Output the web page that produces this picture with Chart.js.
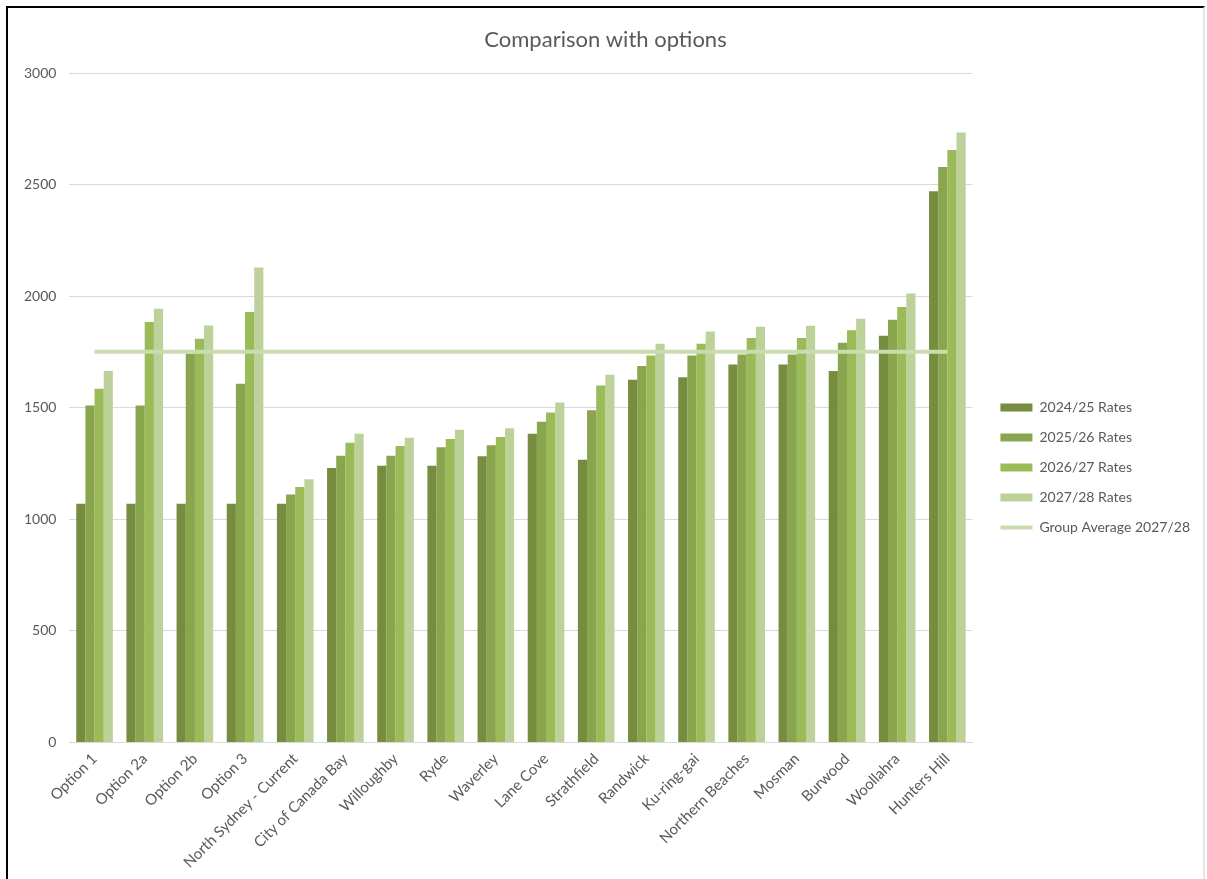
<!DOCTYPE html>
<html>
<head>
<meta charset="utf-8">
<script src="https://cdn.jsdelivr.net/npm/chart.js@4.4.1/dist/chart.umd.min.js"></script>
<style>
  html, body { margin: 0; padding: 0; background: #ffffff; }
  #wrap { position: relative; width: 1207px; height: 879px; overflow: hidden; }
  #frame { position: absolute; left: 6px; top: 6px; width: 1195px; height: 900px;
           border-left: 2px solid #000; border-top: 2px solid #000; border-right: 2px solid #e6e6e6; }
  #c { position: absolute; left: 0; top: 0; }
</style>
</head>
<body>
<div id="wrap">
  <canvas id="c" width="1207" height="879"></canvas>
  <div id="frame"></div>
</div>
<script>
const categories = ["Option 1","Option 2a","Option 2b","Option 3","North Sydney - Current","City of Canada Bay","Willoughby","Ryde","Waverley","Lane Cove","Strathfield","Randwick","Ku-ring-gai","Northern Beaches","Mosman","Burwood","Woollahra","Hunters Hill"];
const rates2024_25 = [1070,1070,1070,1070,1070,1230,1241,1241,1283,1384,1268,1626,1638,1695,1695,1665,1824,2471];
const rates2025_26 = [1511,1511,1743,1608,1112,1286,1286,1324,1332,1438,1490,1688,1735,1740,1740,1792,1895,2580];
const rates2026_27 = [1586,1885,1810,1930,1145,1344,1329,1360,1369,1479,1601,1735,1788,1813,1813,1848,1952,2656];
const rates2027_28 = [1665,1945,1870,2130,1180,1384,1366,1402,1409,1524,1649,1788,1843,1864,1868,1900,2013,2735];
const groupAverage2027_28 = [1752,1752,1752,1752,1752,1752,1752,1752,1752,1752,1752,1752,1752,1752,1752,1752,1752,1752];
const yTicks = [0,500,1000,1500,2000,2500,3000];

const textColor = '#595959';
const fontFamily = 'Lato, "Open Sans", sans-serif';
const legendGap = 12;

function barSet(label, data, color) {
  return { type: 'bar', label, data, backgroundColor: color, borderWidth: 0,
           pointStyle: 'rect', order: 1, categoryPercentage: 0.73, barPercentage: 1.0 };
}

// Adds some space between the plot area and the legend on the right.
const legendGapPlugin = {
  id: 'legendGap',
  afterInit(chart) {
    const lg = chart.legend;
    if (!lg || lg._gapPatched) return;
    lg._gapPatched = true;
    const fit = lg.fit;
    lg.fit = function () { fit.call(this); this.width = this.width + legendGap; };
    const draw = lg.draw;
    lg.draw = function () {
      const ctx = this.ctx;
      ctx.save();
      ctx.translate(legendGap, 0);
      draw.call(this);
      ctx.restore();
    };
  }
};

new Chart(document.getElementById('c'), {
  data: {
    labels: categories,
    datasets: [
      barSet('2024/25 Rates', rates2024_25, '#768c3e'),
      barSet('2025/26 Rates', rates2025_26, '#89a64e'),
      barSet('2026/27 Rates', rates2026_27, '#9bbb59'),
      barSet('2027/28 Rates', rates2027_28, '#bcd29a'),
      { type: 'line', label: 'Group Average 2027/28', data: groupAverage2027_28,
        borderColor: '#c9dcb0', backgroundColor: '#c9dcb0', borderWidth: 4,
        pointRadius: 0, pointHoverRadius: 0, pointStyle: 'line', order: 0, fill: false }
    ]
  },
  plugins: [legendGapPlugin],
  options: {
    responsive: false,
    animation: false,
    layout: { padding: { left: 11, right: 7, top: 27, bottom: 0 } },
    plugins: {
      title: { display: true, text: 'Comparison with options', color: textColor,
               font: { family: fontFamily, size: 22, weight: 'normal' }, padding: { top: 0, bottom: 20 } },
      legend: {
        position: 'right',
        title: { display: true, text: '', padding: { top: 28, bottom: 0 }, font: { size: 1 } },
        labels: { color: textColor, font: { family: fontFamily, size: 14 },
                  usePointStyle: true, pointStyleWidth: 32, boxWidth: 32, boxHeight: 8, padding: 16,
                  sort: (a, b) => a.datasetIndex - b.datasetIndex }
      },
      tooltip: { enabled: false }
    },
    scales: {
      x: {
        grid: { display: false, drawTicks: false },
        border: { display: true, color: '#d9d9d9', width: 1 },
        ticks: { color: textColor, font: { family: fontFamily, size: 15 },
                 maxRotation: 45, minRotation: 45, autoSkip: false, padding: 7.5 }
      },
      y: {
        min: 0, max: 3000,
        afterBuildTicks: (axis) => { axis.ticks = yTicks.map(v => ({ value: v })); },
        grid: { color: '#d9d9d9', drawTicks: false },
        border: { display: false },
        ticks: { color: textColor, font: { family: fontFamily, size: 14 }, padding: 13,
                 callback: (v) => String(v) }
      }
    }
  }
});
</script>
</body>
</html>
